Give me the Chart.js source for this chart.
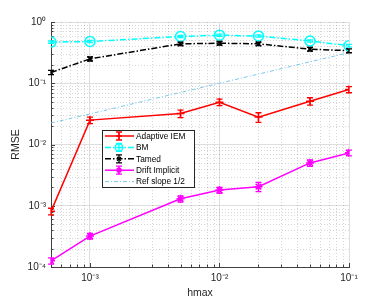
<!DOCTYPE html>
<html>
<head>
<meta charset="utf-8">
<script src="https://cdn.jsdelivr.net/npm/chart.js@4.4.1/dist/chart.umd.min.js"></script>
<style>
  body { margin: 0; background: #fff; }
</style>
</head>
<body>
<canvas id="chart" width="385" height="300"></canvas>
<script>
// step sizes (x axis) and RMSE values
var hmax = [5e-4, 1e-3, 5e-3, 1e-2, 2e-2, 5e-2, 1e-1];

var adaptiveIEM = [8.1e-4, 0.025, 0.032, 0.049, 0.028, 0.051, 0.079];
var adaptiveErr = [1.0e-4, 0.003, 0.0045, 0.006, 0.005, 0.007, 0.009];

var bm = [0.47, 0.48, 0.58, 0.61, 0.59, 0.49, 0.41];
var bmErr = [0.02, 0.02, 0.025, 0.025, 0.025, 0.02, 0.02];

var tamed = [0.15, 0.25, 0.44, 0.45, 0.44, 0.36, 0.34];
var tamedErr = [0.012, 0.02, 0.03, 0.03, 0.03, 0.025, 0.025];

var driftImplicit = [1.26e-4, 3.2e-4, 1.3e-3, 1.8e-3, 2.05e-3, 5.0e-3, 7.3e-3];
var driftErr = [1.5e-5, 3.5e-5, 1.5e-4, 2.0e-4, 3.5e-4, 6.0e-4, 8.0e-4];

var refSlope = [0.0224, 0.0316, 0.0707, 0.1, 0.141, 0.224, 0.316];

var xTicks = [1e-3, 1e-2, 1e-1];
var yTicks = [1e-4, 1e-3, 1e-2, 1e-1, 1];

var fonte = '"Liberation Sans", Arial, Helvetica, sans-serif';
var corTexto = "#262626";

// "10" followed by the exponent in superscript
var sobrescrito = { "-": "\u207B", "0": "\u2070", "1": "\u00B9", "2": "\u00B2", "3": "\u00B3", "4": "\u2074" };
function potencia(v) {
  var e = String(Math.round(Math.log10(v)));
  var s = "";
  for (var i = 0; i < e.length; i++) s += sobrescrito[e[i]];
  return "10" + s;
}

function pontos(ys) {
  return hmax.map(function (x, i) { return { x: x, y: ys[i] }; });
}

// dotted minor grid and small inward tick marks
var gradeMenor = {
  id: "gradeMenor",
  beforeDatasetsDraw: function (chart) {
    var ctx = chart.ctx, a = chart.chartArea;
    var xs = chart.scales.x, ys = chart.scales.y;
    function menores(min, max) {
      var out = [];
      for (var e = Math.floor(Math.log10(min)); e < Math.log10(max); e++) {
        for (var k = 2; k <= 9; k++) {
          var v = k * Math.pow(10, e);
          if (v > min * 1.0001 && v < max * 0.9999) out.push(v);
        }
      }
      return out;
    }
    var mx = menores(xs.min, xs.max), my = menores(ys.min, ys.max);
    ctx.save();
    ctx.strokeStyle = "rgba(0,0,0,0.16)";
    ctx.lineWidth = 1;
    ctx.setLineDash([1, 2]);
    mx.forEach(function (v) {
      var px = Math.round(xs.getPixelForValue(v)) + 0.5;
      ctx.beginPath(); ctx.moveTo(px, a.top); ctx.lineTo(px, a.bottom); ctx.stroke();
    });
    my.forEach(function (v) {
      var py = Math.round(ys.getPixelForValue(v)) + 0.5;
      ctx.beginPath(); ctx.moveTo(a.left, py); ctx.lineTo(a.right, py); ctx.stroke();
    });
    ctx.setLineDash([]);
    ctx.strokeStyle = "#404040";
    mx.forEach(function (v) {
      var px = Math.round(xs.getPixelForValue(v)) + 0.5;
      ctx.beginPath(); ctx.moveTo(px, a.bottom); ctx.lineTo(px, a.bottom - 2.5); ctx.stroke();
    });
    xTicks.forEach(function (v) {
      var px = Math.round(xs.getPixelForValue(v)) + 0.5;
      ctx.beginPath(); ctx.moveTo(px, a.bottom); ctx.lineTo(px, a.bottom - 4); ctx.stroke();
    });
    my.forEach(function (v) {
      var py = Math.round(ys.getPixelForValue(v)) + 0.5;
      ctx.beginPath(); ctx.moveTo(a.left, py); ctx.lineTo(a.left + 2.5, py); ctx.stroke();
    });
    yTicks.forEach(function (v) {
      var py = Math.round(ys.getPixelForValue(v)) + 0.5;
      ctx.beginPath(); ctx.moveTo(a.left, py); ctx.lineTo(a.left + 4, py); ctx.stroke();
    });
    ctx.restore();
  }
};

// vertical error bars with caps
var barrasErro = {
  id: "barrasErro",
  afterDatasetsDraw: function (chart) {
    var ctx = chart.ctx, xs = chart.scales.x, ys = chart.scales.y;
    chart.data.datasets.forEach(function (ds) {
      if (!ds.erros) return;
      ctx.save();
      ctx.strokeStyle = ds.borderColor;
      ctx.lineWidth = 1.3;
      ds.data.forEach(function (p, j) {
        var x = xs.getPixelForValue(p.x);
        var y1 = ys.getPixelForValue(p.y - ds.erros[j]);
        var y2 = ys.getPixelForValue(p.y + ds.erros[j]);
        ctx.beginPath();
        ctx.moveTo(x, y1); ctx.lineTo(x, y2);
        ctx.moveTo(x - 3, y1); ctx.lineTo(x + 3, y1);
        ctx.moveTo(x - 3, y2); ctx.lineTo(x + 3, y2);
        ctx.stroke();
      });
      ctx.restore();
    });
  }
};

// legend box inside the axes, like MATLAB's
var legenda = {
  id: "legenda",
  afterDraw: function (chart) {
    var ctx = chart.ctx;
    var x0 = 102, y0 = 130, w = 92, h = 57;
    ctx.save();
    ctx.fillStyle = "#fff";
    ctx.fillRect(x0, y0, w, h);
    ctx.strokeStyle = corTexto;
    ctx.lineWidth = 1;
    ctx.strokeRect(x0 + 0.5, y0 + 0.5, w, h);
    chart.data.datasets.forEach(function (ds, i) {
      var y = y0 + 6 + i * 11.4;
      var xm = x0 + 17;
      ctx.save();
      ctx.strokeStyle = ds.borderColor;
      ctx.lineWidth = ds.borderWidth;
      ctx.setLineDash(ds.borderDash || []);
      ctx.beginPath(); ctx.moveTo(x0 + 3, y); ctx.lineTo(x0 + 32, y); ctx.stroke();
      ctx.setLineDash([]);
      if (ds.erros) {
        ctx.lineWidth = 1.3;
        ctx.beginPath();
        ctx.moveTo(xm, y - 4); ctx.lineTo(xm, y + 4);
        ctx.moveTo(xm - 3, y - 4); ctx.lineTo(xm + 3, y - 4);
        ctx.moveTo(xm - 3, y + 4); ctx.lineTo(xm + 3, y + 4);
        ctx.stroke();
      }
      if (ds.pointRadius > 0) {
        ctx.fillStyle = ds.pointBackgroundColor;
        ctx.strokeStyle = ds.borderColor;
        ctx.lineWidth = ds.pointBorderWidth;
        Chart.helpers.drawPoint(ctx, { pointStyle: ds.pointStyle, radius: ds.pointRadius * 0.75, borderWidth: ds.pointBorderWidth, rotation: 0 }, xm, y);
      }
      ctx.restore();
      ctx.fillStyle = "#000";
      ctx.font = "8.3px " + fonte;
      ctx.textBaseline = "middle";
      ctx.fillText(ds.label, x0 + 34, y + 0.5);
    });
    ctx.restore();
  }
};

var ctx = document.getElementById("chart").getContext("2d");

var grafico = new Chart(ctx, {
  type: "line",
  data: {
    datasets: [
      {
        label: "Adaptive IEM",
        data: pontos(adaptiveIEM),
        erros: adaptiveErr,
        borderColor: "#ff0000",
        borderWidth: 1.5,
        pointStyle: "cross",
        pointRadius: 4,
        pointBorderWidth: 1.5,
        pointBackgroundColor: "#ff0000"
      },
      {
        label: "BM",
        data: pontos(bm),
        erros: bmErr,
        borderColor: "#00ffff",
        borderWidth: 1.5,
        borderDash: [6, 2, 1.5, 2],
        pointStyle: "circle",
        pointRadius: 5,
        pointBorderWidth: 1.5,
        pointBackgroundColor: "rgba(0,0,0,0)"
      },
      {
        label: "Tamed",
        data: pontos(tamed),
        erros: tamedErr,
        borderColor: "#000000",
        borderWidth: 1.5,
        borderDash: [6, 2, 1.5, 2],
        pointStyle: "crossRot",
        pointRadius: 3.5,
        pointBorderWidth: 1.5,
        pointBackgroundColor: "#000000"
      },
      {
        label: "Drift Implicit",
        data: pontos(driftImplicit),
        erros: driftErr,
        borderColor: "#ff00ff",
        borderWidth: 1.5,
        pointStyle: "star",
        pointRadius: 4,
        pointBorderWidth: 1.5,
        pointBackgroundColor: "#ff00ff"
      },
      {
        label: "Ref slope 1/2",
        data: pontos(refSlope),
        borderColor: "#7cc8ee",
        borderWidth: 1,
        borderDash: [4, 2, 1, 2],
        pointRadius: 0,
        pointBorderWidth: 0,
        pointBackgroundColor: "#7cc8ee"
      }
    ]
  },
  options: {
    responsive: false,
    animation: false,
    layout: { padding: { left: 0, right: 36, top: 22, bottom: 0 } },
    elements: { line: { tension: 0, fill: false } },
    plugins: {
      legend: { display: false },
      tooltip: { enabled: false }
    },
    scales: {
      x: {
        type: "logarithmic",
        min: 5e-4,
        max: 0.1,
        afterBuildTicks: function (s) {
          s.ticks = xTicks.map(function (v) { return { value: v }; });
        },
        afterFit: function (s) { s.height = 33; },
        grid: { color: "#dedede", drawTicks: false },
        border: { display: true, color: "#404040", width: 1 },
        ticks: {
          callback: function (v) { return potencia(v); },
          font: { size: 10, family: fonte },
          color: corTexto,
          padding: 5,
          maxRotation: 0,
          autoSkip: false
        },
        title: {
          display: true,
          text: "hmax",
          font: { size: 10.5, family: fonte },
          color: corTexto,
          padding: { top: 0, bottom: 1 }
        }
      },
      y: {
        type: "logarithmic",
        min: 1e-4,
        max: 1,
        afterBuildTicks: function (s) {
          s.ticks = yTicks.map(function (v) { return { value: v }; });
        },
        afterFit: function (s) { s.width = 51; },
        grid: { color: "#dedede", drawTicks: false },
        border: { display: true, color: "#404040", width: 1 },
        ticks: {
          callback: function (v) { return potencia(v); },
          font: { size: 10, family: fonte },
          color: corTexto,
          padding: 5,
          autoSkip: false
        },
        title: {
          display: true,
          text: "RMSE",
          font: { size: 10.5, family: fonte },
          color: corTexto,
          padding: { top: 10, bottom: 0 }
        }
      }
    }
  },
  plugins: [gradeMenor, barrasErro, legenda]
});
</script>
</body>
</html>
